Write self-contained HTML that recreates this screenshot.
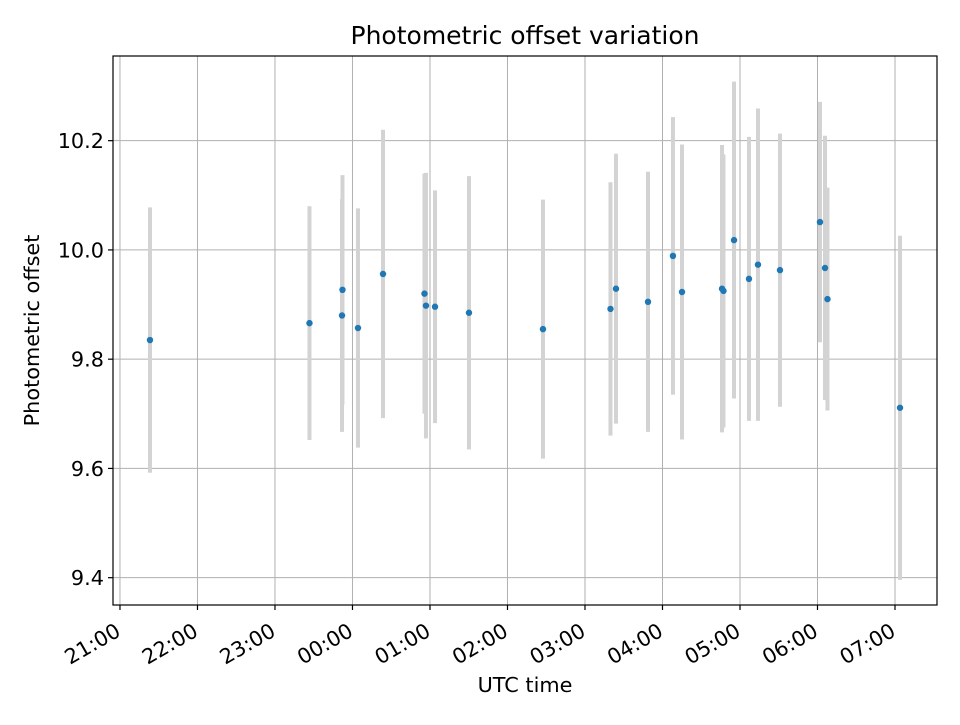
<!DOCTYPE html>
<html><head><meta charset="utf-8"><style>
body{margin:0;background:#fff;font-family:"Liberation Sans","DejaVu Sans",sans-serif}
svg text{font-family:"DejaVu Sans","Liberation Sans",sans-serif;fill:#000}
</style></head><body>
<svg id="chart" width="960" height="720" xmlns="http://www.w3.org/2000/svg"></svg>
<script>
// hours after 21:00 UTC
const times=[0.387,2.445,2.871,2.865,3.071,3.394,3.929,3.948,4.065,4.503,5.458,6.329,6.4,6.813,7.135,7.252,7.768,7.787,7.923,8.116,8.232,8.516,9.032,9.097,9.129,10.065];
const offsets=[9.835,9.866,9.927,9.880,9.857,9.956,9.920,9.898,9.896,9.885,9.855,9.892,9.929,9.905,9.989,9.923,9.929,9.925,10.018,9.947,9.973,9.963,10.051,9.967,9.910,9.711];
const errors=[0.243,0.214,0.21,0.213,0.219,0.264,0.22,0.243,0.213,0.25,0.237,0.232,0.247,0.238,0.254,0.27,0.263,0.25,0.29,0.26,0.286,0.25,0.22,0.242,0.204,0.315];
const xTickLabels=["21:00","22:00","23:00","00:00","01:00","02:00","03:00","04:00","05:00","06:00","07:00"];
const yTicks=[9.4,9.6,9.8,10.0,10.2];

const L=113,R=937,T=56,B=605,xMin=-0.09,xMax=10.542,yMin=9.350,yMax=10.355;
const X=h=>L+(h-xMin)/(xMax-xMin)*(R-L);
const Y=v=>B-(v-yMin)/(yMax-yMin)*(B-T);
const svg=document.getElementById('chart');
const NS='http://www.w3.org/2000/svg';
function mk(tag,attrs,parent){const e=document.createElementNS(NS,tag);for(const k in attrs)e.setAttribute(k,attrs[k]);(parent||svg).appendChild(e);return e;}

const grid=mk('g',{});


xTickLabels.forEach((lab,i)=>{
  const x=X(i);
  const g=mk('line',{x1:x,x2:x,y1:T,y2:B,stroke:'#b0b0b0','stroke-width':1},grid);
  
  
  const t=mk('line',{x1:x,x2:x,y1:B,y2:B+5,stroke:'#000','stroke-width':1.2});
  
  
  const ax=x+2, ay=B+30;
  const tx=mk('text',{x:ax,y:ay,'font-size':20.8,'text-anchor':'end',transform:`rotate(-30 ${ax} ${ay})`});
  tx.textContent=lab;
  
  
});
yTicks.forEach(v=>{
  const y=Y(v);
  const g=mk('line',{x1:L,x2:R,y1:y,y2:y,stroke:'#b0b0b0','stroke-width':1},grid);
  
  
  const t=mk('line',{x1:L-5,x2:L,y1:y,y2:y,stroke:'#000','stroke-width':1.2});
  
  
  const tx=mk('text',{x:L-9,y:y+7.5,'font-size':20.8,'text-anchor':'end'});
  tx.textContent=v.toFixed(1);
  
  
});
times.forEach((h,i)=>{
  const x=X(h);
  const e=mk('line',{x1:x,x2:x,y1:Y(offsets[i]+errors[i]),y2:Y(offsets[i]-errors[i]),stroke:'#d3d3d3','stroke-width':4});
  
  
});
times.forEach((h,i)=>{
  const p=mk('circle',{cx:X(h),cy:Y(offsets[i]),r:3.2,fill:'#1f77b4'});
  
  
});
const fr=mk('rect',{x:L,y:T,width:R-L,height:B-T,fill:'none',stroke:'#000','stroke-width':1.2});


const title=mk('text',{x:(L+R)/2,y:44,'font-size':25,'text-anchor':'middle'});
title.textContent='Photometric offset variation';


const xt=mk('text',{x:(L+R)/2,y:692,'font-size':20.8,'text-anchor':'middle'});
xt.textContent='UTC time';


const yt=mk('text',{x:39,y:(T+B)/2,'font-size':20.8,'text-anchor':'middle',transform:`rotate(-90 39 ${(T+B)/2})`});
yt.textContent='Photometric offset';


</script>
</body></html>
